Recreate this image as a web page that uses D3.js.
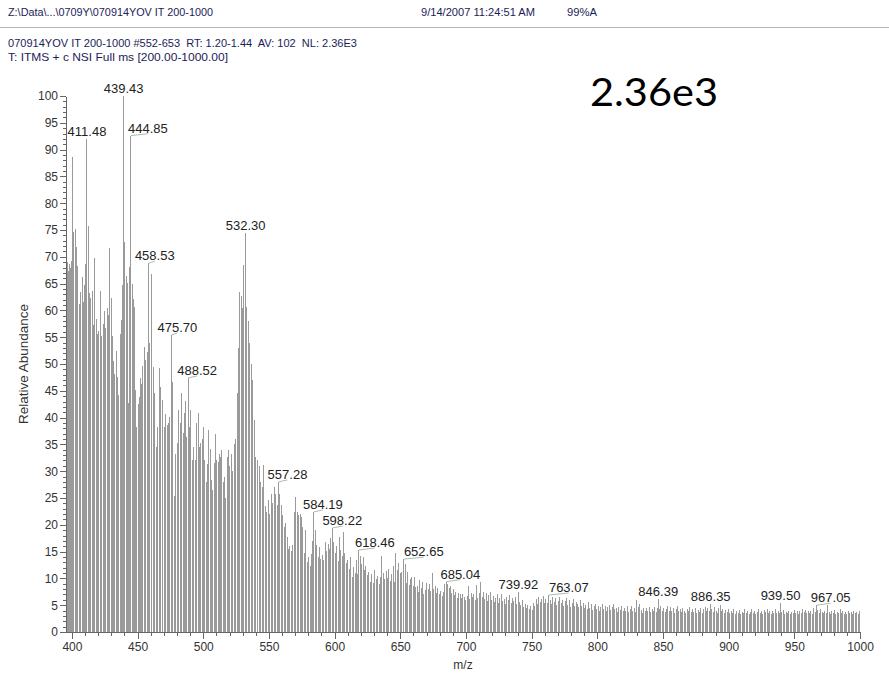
<!DOCTYPE html>
<html>
<head>
<meta charset="utf-8">
<script src="https://cdn.jsdelivr.net/npm/d3@7"></script>
<style>
  html, body { margin: 0; padding: 0; background: #fff; }
  svg { display: block; font-family: "Liberation Sans", Arial, sans-serif; }
  .hdr { fill: #1c1c5a; font-size: 11px; white-space: pre; }
</style>
</head>
<body>
<svg id="chart" width="889" height="674"></svg>
<script>
// Centroided scan, m/z vs relative abundance (%), grouped by 100 m/z
const spectrum400 = [
  [395.8,68.2],[396.5,69.1],[397.3,67.4],[398.1,68.6],[398.8,67.9],[399.6,69.3],
  [400.6,88.6],[401.5,74.6],[402.4,75.1],[403.3,71.9],[404.5,68.2],[405.7,61.2],[406.8,63.4],[407.7,66.3],[408.8,61.6],[409.6,64.8],
  [410.5,68.7],[411.48,92.0],[412.4,75.8],[413.4,63.2],[414.5,62.4],[415.6,63.7],[416.5,57.2],[417.5,69.8],[418.6,58.4],[419.5,55.6],
  [420.5,56.1],[421.8,63.6],[422.8,55.3],[423.9,57.4],[424.9,59.8],[425.9,56.8],[426.9,60.4],[427.9,59.1],[428.9,71.7],[429.8,62.3],
  [430.8,55.2],[431.8,50.6],[432.8,48.1],[433.8,52.4],[434.8,47.6],[435.8,44.3],[436.7,55.6],[437.6,58.2],[438.5,64.7],[439.43,100.0],
  [440.3,72.8],[441.2,66.4],[442.1,65.2],[442.9,42.8],[443.6,68.1],[444.85,92.6],[445.8,64.9],[446.6,62.1],[447.5,60.6],[448.5,45.2],[449.4,38.3],
  [450.4,42.6],[451.3,43.9],[452.2,47.3],[453.2,46.2],[454.1,49.6],[455.1,53.1],[456.1,50.8],[457.2,52.2],[458.53,68.8],[459.4,53.9],
  [460.7,66.8],[461.9,49.5],[463.1,44.5],[464.3,34.6],[465.4,38.3],[466.6,49.2],[467.8,45.8],[469.0,43.3],
  [470.2,38.3],[471.3,40.6],[472.4,38.6],[473.5,38.9],[474.6,40.2],[475.70,55.4],[476.8,46.7],[477.9,25.3],[479.0,33.3],
  [480.2,35.2],[481.3,41.4],[482.4,39.0],[483.5,44.5],[484.6,37.2],[485.7,40.8],[486.8,43.1],[487.6,36.4],[488.52,47.4],[489.5,38.3],
  [490.6,41.4],[491.7,32.0],[492.8,34.6],[493.9,32.0],[495.0,39.0],[496.0,40.8],[497.1,34.6],[498.2,35.2],[499.2,36.1]
];
const spectrum500 = [
  [500.3,38.3],[501.3,32.0],[502.3,28.0],[503.3,31.4],[504.3,37.7],[505.3,34.2],[506.2,28.4],[507.2,26.5],[508.3,31.6],[509.3,37.0],
  [510.3,32.0],[511.3,31.7],[512.3,33.3],[513.2,32.7],[514.2,34.0],[515.2,28.0],[516.2,29.0],[517.1,25.0],[518.2,32.7],[519.2,34.0],
  [520.3,31.0],[521.3,33.3],[522.5,30.0],[523.7,35.0],[524.8,36.1],[525.9,44.5],[526.9,53.0],[527.9,63.5],[528.8,62.6],[529.7,60.4],
  [531.0,68.5],[532.30,74.4],[533.3,60.7],[534.3,58.0],[535.3,54.0],[536.5,50.0],[537.7,47.0],[538.9,39.6],
  [540.1,32.7],[541.3,32.0],[542.5,31.0],[543.7,28.0],[544.9,27.0],[546.1,31.2],[547.3,23.5],[548.5,22.4],[549.6,24.6],
  [550.7,22.0],[551.8,25.8],[552.9,24.0],[554.0,27.0],[555.1,25.8],[556.2,23.7],[557.28,28.0],[558.3,25.8],[559.4,23.7],
  [560.5,21.8],[561.6,19.6],[562.7,20.4],[563.8,17.8],[564.9,15.4],[566.0,16.1],[567.1,15.2],[568.2,16.3],[569.3,22.3],
  [570.4,25.2],[571.5,22.4],[572.6,21.9],[573.7,22.1],[574.8,21.5],[575.9,19.6],[577.0,14.7],[578.1,19.0],[579.2,13.1],
  [580.3,14.0],[581.4,12.4],[582.5,14.6],[583.4,17.0],[584.19,22.4],[585.2,19.0],[586.3,16.2],[587.4,14.0],[588.5,15.8],[589.6,13.6],
  [590.7,14.4],[591.8,13.5],[592.9,16.8],[594.0,15.1],[595.1,16.5],[596.2,15.4],[597.2,17.6],[598.22,19.4],[599.3,16.8]
];
const spectrum600 = [
  [600.4,14.7],[601.5,16.0],[602.6,13.2],[603.7,17.8],[604.8,15.3],[605.9,14.1],[606.8,18.7],[607.9,14.7],[609.0,12.9],
  [610.1,13.4],[611.2,11.8],[612.3,14.0],[613.4,10.3],[614.5,12.2],[615.6,11.1],[616.7,13.5],[617.6,10.8],[618.46,15.3],[619.5,14.2],
  [620.6,12.6],[621.7,13.9],[622.8,11.6],[623.9,12.4],[625.0,10.6],[626.1,11.2],[627.2,9.4],[628.3,10.8],[629.4,9.1],
  [630.5,11.6],[631.6,9.8],[632.7,10.4],[633.8,8.9],[634.9,10.2],[635.9,14.2],[637.0,11.1],[638.1,9.9],[639.2,11.3],
  [640.3,10.1],[641.4,11.8],[642.5,9.6],[643.6,10.9],[644.7,12.3],[645.8,9.4],[646.7,14.7],[647.8,11.6],[648.9,12.8],
  [650.0,11.0],[651.3,11.2],[652.65,13.6],[653.6,12.6],[654.6,9.1],[655.6,11.2],[656.7,8.7],[657.7,9.8],[658.8,10.3],[659.8,8.5],
  [660.8,10.3],[661.9,8.4],[662.9,8.6],[663.9,7.4],[664.9,9.7],[666.0,8.2],[667.0,9.4],[668.0,7.1],[669.0,7.8],
  [670.1,9.1],[671.2,8.0],[672.3,9.0],[673.3,7.6],[674.4,11.0],[675.5,8.1],[676.6,8.5],[677.6,7.3],[678.7,8.2],[679.8,7.0],
  [680.8,7.7],[681.9,6.8],[682.9,7.5],[684.0,8.9],[685.04,9.4],[686.1,9.0],[687.1,8.3],[688.2,8.6],[689.2,7.2],
  [690.3,8.0],[691.3,6.9],[692.4,7.5],[693.4,6.4],[694.5,7.3],[695.5,7.0],[696.6,6.3],[697.6,7.1],[698.7,6.6],[699.7,6.0]
];
const spectrum700 = [
  [700.8,6.8],[701.9,8.5],[702.9,6.2],[704.0,7.2],[705.0,6.5],[706.1,7.0],[707.1,5.9],[708.0,8.8],[709.1,6.4],
  [710.2,7.3],[711.2,9.4],[712.3,6.6],[713.3,7.5],[714.4,6.1],[715.4,7.2],[716.5,5.8],[717.5,6.9],[718.6,7.4],[719.6,6.0],
  [720.7,6.8],[721.7,5.6],[722.8,6.3],[723.8,7.0],[724.9,5.5],[725.9,6.4],[727.0,7.0],[728.0,5.8],[729.1,6.2],
  [730.1,5.3],[731.2,6.6],[732.2,5.9],[733.3,6.9],[734.3,5.4],[735.4,6.3],[736.4,5.8],[737.5,6.5],[738.5,5.2],[739.92,7.4],
  [740.8,5.6],[741.9,5.0],[742.9,5.9],[744.0,4.6],[745.0,5.3],[746.1,4.4],[747.1,5.1],[748.2,4.3],[749.2,4.8],
  [750.3,4.1],[751.3,5.4],[752.4,4.9],[753.4,6.2],[754.5,5.3],[755.5,6.6],[756.6,5.6],[757.6,6.1],[758.7,6.7],[759.7,5.5],
  [760.8,6.2],[761.8,5.4],[763.07,6.9],[764.0,6.0],[765.1,5.2],[766.1,6.5],[767.2,5.6],[768.2,6.3],[769.3,5.0],
  [770.3,5.8],[771.3,6.5],[772.4,5.4],[773.4,6.0],[774.5,4.9],[775.5,5.7],[776.6,6.3],[777.6,5.1],[778.7,5.9],[779.7,4.7],
  [780.8,5.5],[781.8,6.1],[782.9,4.8],[783.9,5.6],[785.0,5.2],[786.0,4.6],[787.1,5.9],[788.1,4.9],[789.2,5.4],
  [790.2,4.4],[791.3,5.0],[792.3,4.3],[793.4,5.6],[794.4,4.5],[795.5,5.2],[796.5,4.1],[797.6,4.8],[798.6,5.3],[799.7,4.2]
];
const spectrum800 = [
  [800.7,4.9],[801.8,4.0],[802.8,4.7],[803.9,5.2],[804.9,4.3],[806.0,4.8],[807.0,3.9],[808.1,4.6],[809.1,5.0],
  [810.2,4.1],[811.2,4.7],[812.3,5.3],[813.3,4.2],[814.4,4.5],[815.4,3.8],[816.5,4.6],[817.5,4.1],[818.6,4.9],[819.6,3.9],
  [820.7,4.4],[821.7,4.0],[822.8,4.8],[823.8,3.7],[824.9,4.3],[825.9,4.9],[827.0,4.0],[828.0,4.5],[829.1,3.8],
  [830.1,5.9],[831.2,4.6],[832.2,5.2],[833.3,4.1],[834.3,3.6],[835.4,4.4],[836.4,3.9],[837.5,4.5],[838.5,4.0],[839.6,4.7],
  [840.6,3.8],[841.7,4.3],[842.7,4.0],[843.8,4.6],[844.8,3.7],[845.5,4.4],[846.39,6.1],[847.4,4.2],[848.4,4.8],[849.5,3.9],
  [850.5,4.5],[851.6,3.8],[852.6,4.3],[853.7,4.9],[854.7,3.9],[855.8,4.6],[856.8,4.0],[857.9,4.4],[858.9,3.6],
  [860.0,4.2],[861.0,4.8],[862.1,3.9],[863.1,4.3],[864.2,3.7],[865.2,4.5],[866.3,4.0],[867.3,3.6],[868.4,4.3],[869.4,3.9],
  [870.5,4.6],[871.5,3.7],[872.6,4.2],[873.6,3.8],[874.7,4.4],[875.7,3.5],[876.8,4.1],[877.8,3.8],[878.9,4.5],[879.9,3.6],
  [881.0,4.2],[882.0,4.7],[883.1,3.9],[884.1,4.4],[885.2,4.0],[886.35,5.2],[887.3,4.3],[888.3,3.7],[889.4,4.6],
  [890.4,4.0],[891.5,3.6],[892.5,4.4],[893.5,5.1],[894.6,3.9],[895.6,4.3],[896.7,3.6],[897.7,4.1],[898.8,3.7],[899.8,4.2]
];
const spectrum900 = [
  [900.9,3.5],[901.9,4.0],[903.0,3.6],[904.0,4.3],[905.1,3.4],[906.1,3.9],[907.2,3.6],[908.2,4.1],[909.3,3.4],
  [910.3,3.8],[911.4,3.5],[912.4,4.2],[913.5,3.6],[914.5,3.9],[915.6,3.3],[916.6,3.8],[917.7,4.3],[918.7,3.5],[919.8,3.9],
  [920.8,3.3],[921.9,3.7],[922.9,4.2],[924.0,3.6],[925.0,3.9],[926.1,3.4],[927.1,4.1],[928.2,3.7],[929.2,4.3],
  [930.3,3.5],[931.3,3.9],[932.4,3.4],[933.4,4.0],[934.5,3.6],[935.5,4.2],[936.6,3.5],[937.6,3.9],[938.6,3.6],[939.50,5.5],
  [940.6,3.7],[941.6,4.1],[942.7,3.4],[943.7,3.8],[944.8,3.5],[945.8,4.0],[946.9,3.4],[947.9,3.8],[949.0,3.5],
  [950.0,4.1],[951.1,3.6],[952.1,3.9],[953.2,3.4],[954.2,4.0],[955.3,3.6],[956.3,4.2],[957.4,3.7],[958.4,4.1],[959.5,3.5],
  [960.5,4.0],[961.6,3.6],[962.6,3.9],[963.7,3.3],[964.7,4.4],[965.8,3.7],[967.05,5.0],[968.0,4.1],[969.1,3.6],
  [970.1,4.2],[971.2,3.8],[972.2,3.5],[973.3,4.0],[974.3,3.6],[975.4,5.0],[976.4,3.7],[977.5,3.3],[978.5,3.9],[979.6,3.5],
  [980.6,4.1],[981.7,3.4],[982.7,3.8],[983.8,3.5],[984.8,4.3],[985.9,3.6],[986.9,3.9],[988.0,3.4],[989.0,3.7],
  [990.1,3.3],[991.1,4.0],[992.2,3.6],[993.2,3.8],[994.3,3.4],[995.3,3.9],[996.4,3.5],[997.4,3.8],[998.5,3.4],[999.5,4.0]
];

// Peaks annotated with their m/z
const labelMz = [411.48, 439.43, 444.85, 458.53, 475.70, 488.52, 532.30, 557.28, 584.19,
                 598.22, 618.46, 652.65, 685.04, 739.92, 763.07, 846.39, 886.35, 939.50, 967.05];

const xTicks = [400, 450, 500, 550, 600, 650, 700, 750, 800, 850, 900, 950, 1000];
const yTicks = [0, 5, 10, 15, 20, 25, 30, 35, 40, 45, 50, 55, 60, 65, 70, 75, 80, 85, 90, 95, 100];

const headerFile = "Z:\\Data\\...\\0709Y\\070914YOV IT 200-1000";
const headerDate = "9/14/2007 11:24:51 AM";
const headerPct = "99%A";
const scanLine = "070914YOV IT 200-1000 #552-653  RT: 1.20-1.44  AV: 102  NL: 2.36E3";
const filterLine = "T: ITMS + c NSI Full ms [200.00-1000.00]";
const normLevel = "2.36e3";

// ---- layout ----
const svg = d3.select("#chart");
const x = d3.scaleLinear().domain([395.5, 1000]).range([66, 860]);
const y = d3.scaleLinear().domain([0, 100]).range([632, 96]);
const fmt = d3.format(".2f");

// horizontal shift of annotations that were pushed aside to avoid overlap
const labelShift = { "444.85": 17, "458.53": 6, "475.70": 6, "488.52": 9, "557.28": 9, "584.19": 9,
                     "598.22": 10, "618.46": 16, "652.65": 20, "685.04": 14, "763.07": 20, "967.05": 14 };

// header block
const hdr = svg.append("g");
hdr.append("text").attr("class", "hdr").attr("x", 8).attr("y", 16)
  .attr("textLength", 205).attr("lengthAdjust", "spacingAndGlyphs").text(headerFile);
hdr.append("text").attr("class", "hdr").attr("x", 421).attr("y", 16)
  .attr("textLength", 114).attr("lengthAdjust", "spacingAndGlyphs").text(headerDate);
hdr.append("text").attr("class", "hdr").attr("x", 567).attr("y", 16)
  .attr("textLength", 30).attr("lengthAdjust", "spacingAndGlyphs").text(headerPct);
hdr.append("line").attr("x1", 0).attr("x2", 889).attr("y1", 27.5).attr("y2", 27.5)
  .attr("stroke", "#b5b5b5").attr("stroke-width", 1);
hdr.append("text").attr("class", "hdr").attr("x", 8).attr("y", 47)
  .attr("textLength", 349).attr("lengthAdjust", "spacingAndGlyphs").text(scanLine);
hdr.append("text").attr("class", "hdr").attr("x", 8).attr("y", 61)
  .attr("textLength", 220).attr("lengthAdjust", "spacingAndGlyphs").text(filterLine);

// spectrum sticks
const peaks = [].concat(spectrum400, spectrum500, spectrum600, spectrum700, spectrum800, spectrum900)
  .map(([mz, ab]) => ({ mz, ab }));

svg.append("g")
  .selectAll("line")
  .data(peaks)
  .join("line")
  .attr("x1", d => x(d.mz)).attr("x2", d => x(d.mz))
  .attr("y1", y(0)).attr("y2", d => y(d.ab))
  .attr("stroke", "#9a9a9a")
  .attr("stroke-width", 1)
  .attr("shape-rendering", "crispEdges");

// axes
function styleAxis(g) {
  g.selectAll("path.domain").attr("stroke", "#666").attr("shape-rendering", "crispEdges");
  g.selectAll(".tick line").attr("stroke", "#666").attr("shape-rendering", "crispEdges");
  g.selectAll(".tick text").attr("fill", "#333").attr("font-size", 12)
    .attr("font-family", "\"Liberation Sans\", Arial, sans-serif");
}

const yMinor = d3.range(0, 101, 1);
svg.append("g").attr("transform", "translate(66,0)")
  .call(d3.axisLeft(y).tickValues(yMinor).tickSize(3).tickFormat(""))
  .call(g => g.select(".domain").remove())
  .call(styleAxis);
svg.append("g").attr("transform", "translate(66,0)")
  .call(d3.axisLeft(y).tickValues(yTicks).tickSize(6).tickSizeOuter(0).tickPadding(2).tickFormat(d3.format("d")))
  .call(styleAxis);

const xMinor = d3.range(400, 1001, 10);
svg.append("g").attr("transform", "translate(0,632)")
  .call(d3.axisBottom(x).tickValues(xMinor).tickSize(4).tickFormat(""))
  .call(g => g.select(".domain").remove())
  .call(styleAxis);
svg.append("g").attr("transform", "translate(0,632)")
  .call(d3.axisBottom(x).tickValues(xTicks).tickSize(7).tickSizeOuter(0).tickPadding(3).tickFormat(d3.format("d")))
  .call(styleAxis);

// axis titles
svg.append("text")
  .attr("transform", "translate(28,364) rotate(-90)")
  .attr("text-anchor", "middle")
  .attr("font-size", 13.5).attr("fill", "#333")
  .text("Relative Abundance");
svg.append("text")
  .attr("x", 463).attr("y", 669)
  .attr("text-anchor", "middle")
  .attr("font-size", 12).attr("fill", "#333")
  .text("m/z");

// peak annotations
const labeled = labelMz.map(mz => peaks.find(p => p.mz === mz));
const ann = svg.append("g");
labeled.forEach(p => {
  const key = fmt(p.mz);
  const dx = labelShift[key] || 0;
  const px = x(p.mz), top = y(p.ab);
  if (dx) {
    ann.append("path")
      .attr("d", `M${px},${top} L${px + dx},${top - 2}`)
      .attr("stroke", "#a6c2a6").attr("stroke-width", 1).attr("fill", "none");
  }
  ann.append("text")
    .attr("x", px + dx).attr("y", top - 3)
    .attr("text-anchor", "middle")
    .attr("font-size", 13).attr("fill", "#222")
    .text(key);
});

// normalisation level
svg.append("text")
  .attr("x", 590).attr("y", 106)
  .attr("font-family", "Lato, \"Open Sans\", sans-serif")
  .attr("font-size", 38).attr("fill", "#000")
  .attr("textLength", 128).attr("lengthAdjust", "spacingAndGlyphs")
  .text(normLevel);
</script>
</body>
</html>
